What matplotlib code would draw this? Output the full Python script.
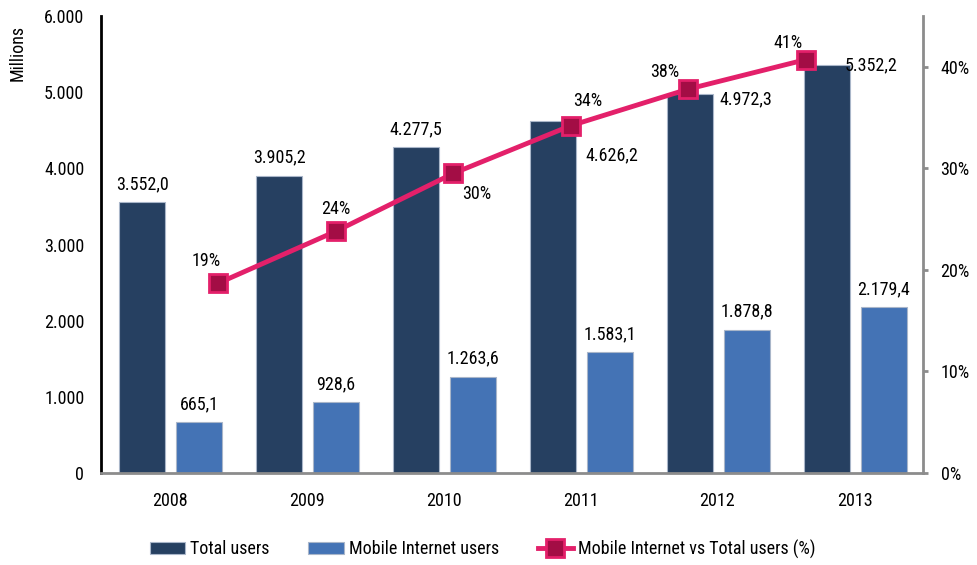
import matplotlib.pyplot as plt
import numpy as np
from matplotlib.ticker import FuncFormatter

plt.rcParams['font.family'] = ['Roboto Condensed', 'Archivo Narrow', 'DejaVu Sans']

# data (millions of users)
years = ['2008', '2009', '2010', '2011', '2012', '2013']
total_users = [3552.0, 3905.2, 4277.5, 4626.2, 4972.3, 5352.2]
mobile_users = [665.1, 928.6, 1263.6, 1583.1, 1878.8, 2179.4]
share_pct = [18.7, 23.8, 29.5, 34.2, 37.8, 40.7]


def fmt_num(v):
    s = f"{v:,.1f}"
    return s.replace(',', ' ').replace('.', ',').replace(' ', '.')


DARK = '#264061'
LIGHT = '#4473B5'
PINK = '#E3206A'
CRIMSON = '#A30D45'
FS = 13

fig = plt.figure(figsize=(9.77, 5.65), dpi=100)
ax = fig.add_axes([101 / 977, 1 - 473 / 565, 822 / 977, 457 / 565])
ax2 = ax.twinx()

x = np.arange(len(years))
w = 0.335
ax.bar(x - 0.2, total_users, w, color=DARK, edgecolor='#A9B6C9', linewidth=0.8,
       label='Total users', zorder=2)
ax.bar(x + 0.215, mobile_users, w, color=LIGHT, edgecolor='#A9B6C9', linewidth=0.8,
       label='Mobile Internet users', zorder=2)

ax.set_xlim(-0.5, len(years) - 0.5)
ax.set_ylim(0, 6000)
ax.set_yticks(np.arange(0, 6001, 1000))
ax.yaxis.set_major_formatter(FuncFormatter(lambda v, p: f"{int(v):,}".replace(',', '.')))
ax.set_xticks(x)
ax.set_xticklabels(years)
ax.tick_params(axis='y', length=0, pad=12, labelsize=FS)
ax.tick_params(axis='x', length=0, pad=14, labelsize=FS)

for s in ['top', 'right']:
    ax.spines[s].set_visible(False)
ax.spines['left'].set_color('black')
ax.spines['left'].set_linewidth(2)
ax.spines['bottom'].set_color('#8C8C8C')
ax.spines['bottom'].set_linewidth(2)

# labels on the bars (offsets in points from bar top centre)
dark_off = [(0, 13), (0, 13), (0, 13), (42, -25), (40, -4), (32, 0)]
for i, v in enumerate(total_users):
    dx, dy = dark_off[i]
    ax.annotate(fmt_num(v), (x[i] - 0.2, v), xytext=(dx, dy), textcoords='offset points',
                ha='center', va='center', fontsize=FS, zorder=5)
for i, v in enumerate(mobile_users):
    ax.annotate(fmt_num(v), (x[i] + 0.215, v), xytext=(0, 13), textcoords='offset points',
                ha='center', va='center', fontsize=FS, zorder=5)

# line on the secondary axis, placed on its own 7-step category scale
line_x = -0.5 + 6 * np.arange(1, 7) / 7
share = np.array(share_pct) / 100
ax2.plot(line_x, share, color=PINK, lw=3.5, marker='s', markersize=13,
         markerfacecolor=CRIMSON, markeredgecolor=PINK, markeredgewidth=2,
         label='Mobile Internet vs Total users (%)', zorder=4)
ax2.set_ylim(0, 0.45)
ax2.set_yticks(np.arange(0, 0.41, 0.1))
ax2.yaxis.set_major_formatter(FuncFormatter(lambda v, p: f"{v * 100:.0f}%"))
ax2.tick_params(axis='y', length=3.6, width=2, color='#8C8C8C', pad=9, labelsize=FS)
for s in ['top', 'left', 'bottom']:
    ax2.spines[s].set_visible(False)
ax2.spines['right'].set_color('#8C8C8C')
ax2.spines['right'].set_linewidth(2)

pct_off = [(-9, 16), (0, 16), (17, -15), (12, 18), (-17, 12), (-13, 12)]
for i, v in enumerate(share_pct):
    dx, dy = pct_off[i]
    ax2.annotate(f"{v:.0f}%", (line_x[i], share[i]), xytext=(dx, dy),
                 textcoords='offset points', ha='center', va='center', fontsize=FS)

fig.text(18 / 977, 1 - 53 / 565, 'Millions', rotation=90, ha='center', va='center',
         fontsize=FS)

h1, l1 = ax.get_legend_handles_labels()
h2, l2 = ax2.get_legend_handles_labels()
fig.legend(h1 + h2, l1 + l2, loc='center left', bbox_to_anchor=(150 / 977, 1 - 549 / 565),
           ncol=3, frameon=False, fontsize=FS, handlelength=1.95, handletextpad=0.28,
           columnspacing=2.15, borderpad=0, borderaxespad=0)

fig.savefig('out.png', dpi=100)
